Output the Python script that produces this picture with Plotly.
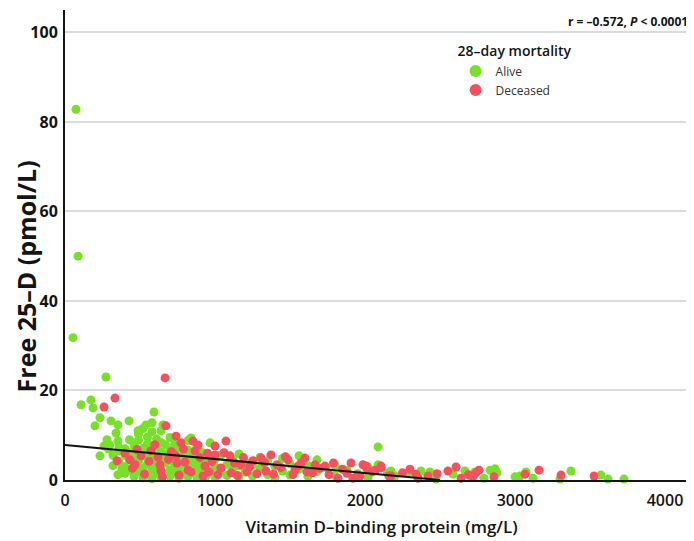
import plotly.graph_objects as go

# ---- data ----
alive_x = [73, 87, 53, 273, 107, 173, 187, 200, 233, 307, 353, 427, 487, 593, 540, 653, 233, 300, 353, 840, 967, 2087, 2087,
           260, 280, 320, 340, 290, 353, 380, 320,
           360, 360, 360, 400, 400, 400, 400, 430, 430, 430, 430, 460, 460, 460, 460,
           490, 490, 490, 490, 490, 520, 520, 520, 520, 520, 550, 550, 550, 550, 550,
           580, 580, 580, 580, 580, 580, 610, 610, 610, 610, 610, 640, 640, 640, 640, 640, 640,
           670, 670, 670, 670, 700, 700, 700, 700, 700, 730, 730, 730, 730, 760, 760, 760, 760,
           790, 790, 790, 820, 820, 820, 820, 820, 850, 850, 850, 880, 880, 880, 880,
           910, 910, 910, 940, 940, 940, 970, 970, 1000, 1000, 1000, 1040, 1040, 1080, 1080,
           1120, 1120, 1160, 1160, 1160, 1200, 1200, 1250, 1250, 1300, 1300, 1350, 1350, 1400, 1400,
           1450, 1450, 1500, 1500, 1560, 1560, 1620, 1620, 1680, 1680, 1740, 1800, 1800, 1880, 1950,
           2020, 2020, 2150, 2173, 2200, 2287, 2373, 2433, 2473, 2587, 2667, 2707, 2733, 2793, 2833,
           2867, 2880, 3000, 3033, 3073, 3120, 3300, 3373, 3573, 3620, 3727]
alive_y = [82.8, 50.0, 31.8, 23.0, 16.8, 17.9, 16.1, 12.1, 13.9, 13.2, 12.3, 13.2, 11.0, 15.2, 12.3, 12.3, 5.4, 7.8, 8.7, 9.4, 8.3, 7.4, 3.4,
           7.6, 9.0, 3.2, 10.5, 6.9, 1.2, 2.5, 5.5,
           6.5, 7.2, 4.0, 3.0, 5.5, 1.5, 7.0, 2.2, 4.6, 6.1, 9.0, 0.8, 3.3, 5.0, 7.8,
           1.9, 4.2, 6.4, 8.9, 10.2, 0.5, 2.7, 5.3, 7.1, 11.5, 1.2, 3.6, 6.0, 8.1, 9.6,
           0.3, 2.4, 4.5, 6.8, 10.8, 12.8, 1.6, 3.1, 5.2, 7.5, 9.2, 0.6, 2.9, 4.8, 6.3, 8.4, 11.0,
           1.4, 3.8, 5.7, 7.9, 0.9, 2.2, 4.4, 6.6, 9.5, 1.8, 3.4, 5.9, 8.0, 0.4, 2.6, 4.9, 7.2,
           1.3, 3.7, 5.5, 0.7, 2.8, 4.3, 6.7, 8.8, 1.7, 3.9, 5.8, 0.5, 2.5, 4.6, 7.4,
           1.5, 3.3, 6.2, 0.8, 2.7, 4.1, 1.9, 5.3, 0.6, 3.0, 4.7, 2.1, 5.6, 1.0, 3.5,
           2.5, 4.4, 0.7, 3.1, 5.8, 1.8, 4.0, 0.9, 3.4, 2.6, 5.1, 1.2, 4.2, 0.5, 3.0,
           2.0, 4.8, 1.1, 3.6, 2.4, 5.4, 0.8, 3.2, 1.9, 4.5, 2.8, 1.0, 3.3, 2.2, 1.4,
           0.6, 2.9, 1.5, 2.0, 0.9, 1.6, 2.0, 1.8, 0.2, 1.3, 2.0, 0.9, 1.8, 0.4, 2.2,
           2.5, 1.6, 0.7, 0.9, 1.8, 0.4, 0.2, 2.0, 1.1, 0.2, 0.2]

deceased_x = [667, 260, 333, 673, 347, 740, 773, 853, 887, 1073, 1000, 1907, 1987, 2107, 2007, 2107, 2067, 1967, 2173,
              2340, 2353, 2553, 2607, 2640, 2720, 2760, 2860, 3067, 3160, 3307, 3527,
              433, 467, 507, 573, 633, 640, 740, 747, 820, 840, 867, 933, 960, 1000, 1040, 1100, 1107,
              1173, 1213, 1253, 1307, 1340, 1373, 1413, 1487, 1533, 1573, 1613, 1667, 1733, 1820, 1920,
              1953, 2013, 2160,
              400, 450, 480, 530, 560, 600, 620, 650, 690, 710, 760, 790, 800, 900, 920, 950, 980, 1020,
              1060, 1130, 1150, 1190, 1230, 1280, 1330, 1390, 1440, 1470, 1520, 1550, 1600, 1650, 1700,
              1760, 1790, 1850, 1880, 2050, 2250, 2300, 2420, 2480, 2690, 2740]
deceased_y = [22.8, 16.3, 18.3, 12.1, 4.3, 9.8, 8.3, 8.7, 7.8, 8.7, 7.6, 3.8, 3.4, 3.1, 3.1, 2.7, 2.2, 0.9, 0.9,
              1.3, 0.4, 2.0, 2.9, 0.4, 0.7, 2.2, 0.7, 1.3, 2.2, 1.1, 0.9,
              4.5, 3.4, 5.4, 6.5, 3.4, 2.0, 5.4, 3.8, 2.2, 1.8, 6.5, 3.1, 1.8, 5.6, 2.7, 5.4, 1.6,
              3.4, 1.8, 4.3, 4.9, 2.0, 5.6, 3.4, 4.5, 2.2, 3.8, 1.8, 3.4, 3.1, 0.4, 0.4,
              1.1, 2.5, 0.9,
              6.0, 2.6, 6.8, 1.3, 4.2, 7.9, 5.1, 0.7, 4.6, 6.3, 1.1, 6.9, 4.0, 5.0, 0.9, 6.0, 4.1, 1.2,
              6.1, 3.8, 1.0, 5.0, 2.9, 1.4, 3.9, 1.3, 2.8, 5.2, 1.2, 3.0, 4.9, 1.6, 2.6,
              1.2, 3.8, 2.4, 1.5, 1.8, 1.6, 2.4, 0.9, 1.4, 1.2, 1.6]

fit_x = [0, 2500]
fit_y = [7.8, 0.0]

x_ticks = [0, 1000, 2000, 3000, 4000]
y_ticks = [0, 20, 40, 60, 80, 100]

GREEN = "#78E02A"
RED = "#F2525E"
INK = "#141414"
FONT = "Open Sans, sans-serif"

fig = go.Figure()
fig.add_trace(go.Scatter(x=alive_x, y=alive_y, mode="markers", name="Alive",
                         marker=dict(color=GREEN, size=9, line=dict(width=0)), cliponaxis=False))
fig.add_trace(go.Scatter(x=deceased_x, y=deceased_y, mode="markers", name="Deceased",
                         marker=dict(color=RED, size=9, line=dict(width=0)), cliponaxis=False))
fig.add_trace(go.Scatter(x=fit_x, y=fit_y, mode="lines", showlegend=False,
                         line=dict(color=INK, width=2)))

fig.update_layout(
    width=694, height=541,
    margin=dict(l=57, r=4, t=2, b=69),
    paper_bgcolor="white", plot_bgcolor="white",
    font=dict(family=FONT, color=INK),
    legend=dict(
        title=dict(text="28–day mortality", font=dict(size=14, family=FONT, weight=600, color=INK)),
        x=0.617, y=0.94, xanchor="left", yanchor="top",
        font=dict(size=12, family=FONT, color="#333333"),
        bgcolor="rgba(0,0,0,0)", itemsizing="constant", tracegroupgap=0,
    ),
    xaxis=dict(
        range=[0, 4220], tickvals=x_ticks, ticktext=[str(v) for v in x_ticks],
        showgrid=False, zeroline=False, showline=True, linecolor=INK, linewidth=2,
        ticks="", tickfont=dict(size=16, family=FONT, weight=600, color=INK),
        ticklabelstandoff=5,
        title=dict(text="Vitamin D–binding protein (mg/L)", standoff=11,
                   font=dict(size=17, family=FONT, weight=600, color=INK)),
    ),
    yaxis=dict(
        range=[0, 105], tickvals=y_ticks, ticktext=[str(v) for v in y_ticks],
        showgrid=True, gridcolor="#d9dcdc", gridwidth=1.5, zeroline=False,
        showline=True, linecolor=INK, linewidth=2,
        ticks="", tickfont=dict(size=16, family=FONT, weight="bold", color=INK),
        ticklabelstandoff=2,
    ),
)

# y-axis title placed as text beside the axis
fig.add_annotation(text="Free 25–D (pmol/L)", xref="paper", yref="paper",
                   x=-0.061, y=0.434, xanchor="center", yanchor="middle", textangle=-90,
                   showarrow=False, font=dict(size=25, family=FONT, weight="bold", color=INK))

fig.add_annotation(text="r = –0.572, <i>P</i> < 0.0001", xref="paper", yref="paper",
                   x=0.987, y=0.975, xanchor="right", yanchor="middle", showarrow=False,
                   font=dict(size=12, family=FONT, weight="bold", color=INK))

fig.write_html("out.html")
